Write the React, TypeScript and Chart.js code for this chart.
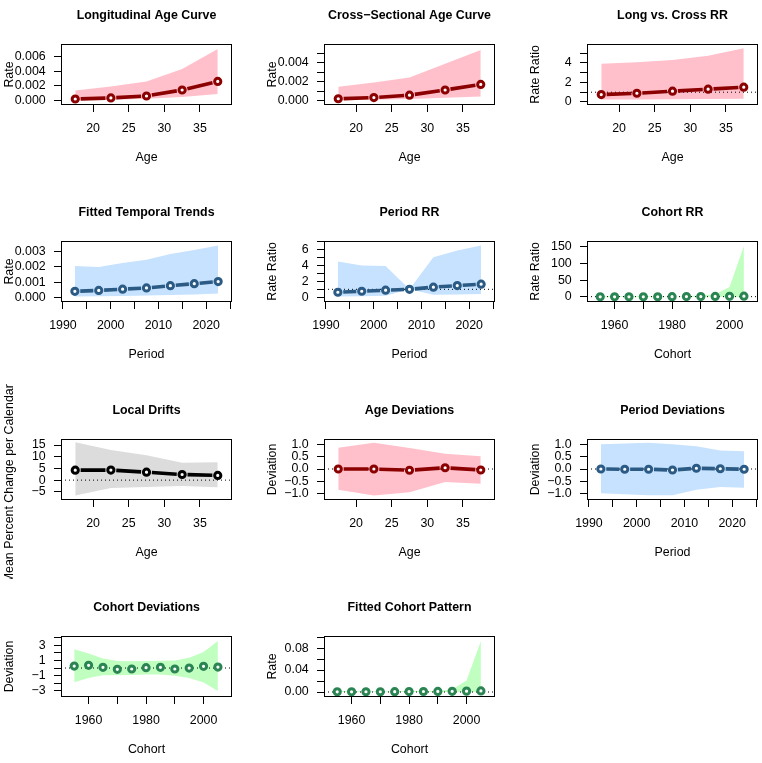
import React, { useEffect, useRef } from 'react';
import { Chart, registerables } from 'chart.js';

Chart.register(...registerables);

const FONT = '"Liberation Sans", Arial, Helvetica, sans-serif';
const FS = 12.4;

// ---------- categories ----------
const ages = [17.5, 22.5, 27.5, 32.5, 37.5];
const periods = [1992.5, 1997.5, 2002.5, 2007.5, 2012.5, 2017.5, 2022.5];
const cohorts = [1955, 1960, 1965, 1970, 1975, 1980, 1985, 1990, 1995, 2000, 2005];

// ---------- axis ticks ----------
const ageTicks = [20, 25, 30, 35];
const ageTickLabels = ['20', '25', '30', '35'];
const periodTicks = [1990, 1995, 2000, 2005, 2010, 2015, 2020, 2025];
const periodTickLabels = ['1990', '', '2000', '', '2010', '', '2020', ''];
const cohortTicks = [1960, 1970, 1980, 1990, 2000];
const cohortTickLabels = ['1960', '', '1980', '', '2000'];

// ---------- series ----------
const longRate = [0.00019, 0.00033, 0.0006, 0.00142, 0.00259];
const longLo = [0.00003, 0.0001, 0.00023, 0.00046, 0.00087];
const longHi = [0.00136, 0.00188, 0.00259, 0.00428, 0.00701];

const crossRate = [0.00018, 0.00031, 0.00056, 0.00111, 0.0017];
const crossLo = [0.00003, 0.00008, 0.00015, 0.0003, 0.00042];
const crossHi = [0.00146, 0.0019, 0.00244, 0.0039, 0.00535];

const lcRR = [0.76, 0.89, 1.1, 1.31, 1.51];
const lcLo = [0.24, 0.26, 0.28, 0.3, 0.34];
const lcHi = [3.9, 4.07, 4.3, 4.72, 5.49];

const trendRate = [0.0004, 0.00046, 0.00054, 0.00062, 0.00077, 0.0009, 0.00104];
const trendLo = [0.00006, 0.00008, 0.0001, 0.00012, 0.00016, 0.0002, 0.00026];
const trendHi = [0.00206, 0.002, 0.00226, 0.00247, 0.00285, 0.00311, 0.0034];

const periodRR = [0.63, 0.76, 0.89, 1.0, 1.27, 1.47, 1.65];
const periodRRLo = [0.09, 0.13, 0.18, 1.0, 0.3, 0.36, 0.42];
const periodRRHi = [4.5, 4.0, 3.96, 1.0, 5.06, 5.9, 6.53];

const cohortRR = [0.35, 0.45, 0.5, 0.55, 0.7, 1.0, 1.1, 1.2, 1.5, 2.0, 2.4];
const cohortRRLo = [0.05, 0.1, 0.12, 0.15, 0.25, 1.0, 0.4, 0.35, 0.3, 0.15, 0.04];
const cohortRRHi = [3.2, 2.5, 2.1, 1.9, 1.8, 1.0, 3.0, 4.2, 8.0, 30, 152];

const drift = [4.28, 4.3, 3.4, 2.4, 2.0];
const driftLo = [-6.6, -3.4, -2.9, -2.5, -3.0];
const driftHi = [16.2, 12.9, 10.6, 7.4, 7.6];

const ageDev = [0.0, 0.0, -0.05, 0.05, -0.04];
const ageDevLo = [-0.84, -1.07, -0.94, -0.52, -0.59];
const ageDevHi = [0.86, 1.06, 0.85, 0.62, 0.51];

const periodDev = [0.0, -0.01, -0.01, -0.04, 0.03, 0.01, -0.01];
const periodDevLo = [-0.98, -1.02, -1.06, -1.06, -0.84, -0.73, -0.76];
const periodDevHi = [1.0, 1.03, 1.06, 1.0, 0.92, 0.75, 0.72];

const cohortDev = [0.26, 0.36, 0.09, -0.17, -0.13, 0.05, 0.09, -0.13, 0.0, 0.22, 0.13];
const cohortDevLo = [-1.85, -1.3, -0.95, -0.95, -0.9, -0.85, -0.85, -1.0, -1.3, -1.9, -3.0];
const cohortDevHi = [2.46, 1.9, 1.24, 0.92, 0.88, 0.92, 0.96, 1.0, 1.36, 2.1, 3.55];

const cohortRate = [0.0003, 0.0004, 0.00045, 0.0005, 0.0006, 0.0008, 0.0009, 0.001, 0.0012, 0.0016, 0.0019];
const cohortRateLo = [0.00003, 0.00005, 0.00008, 0.0001, 0.00012, 0.00015, 0.00018, 0.0002, 0.0002, 0.0001, 0.00004];
const cohortRateHi = [0.002, 0.0018, 0.0016, 0.0015, 0.0015, 0.0017, 0.0018, 0.0022, 0.0045, 0.021, 0.093];

// ---------- colours ----------
const AGE_LINE = '#8B0000';
const AGE_BAND = '#FFC0CB';
const PER_LINE = '#2B5B84';
const PER_BAND = '#C6E2FF';
const COH_LINE = '#2A8553';
const COH_BAND = '#C1FFC1';
const DRIFT_LINE = '#000000';
const DRIFT_BAND = '#DCDCDC';

// ---------- geometry of each R figure cell ----------
const CELL_W = 263;
const CELL_H = 197;
const BOX = { left: 74, top: 57, right: 245, bottom: 118 };
const COL_X = [-13, 250, 513];
const ROW_Y = [-13, 184, 382, 579];

type Panel = {
  title: string;
  xTitle: string;
  yTitle: string;
  longY?: boolean;
  x: number[];
  y: number[];
  lo: number[];
  hi: number[];
  xMin: number;
  xMax: number;
  xTicks: number[];
  xLabels: string[];
  yMin: number;
  yMax: number;
  yTicks: number[];
  yLabels: string[];
  ref: number | null;
  line: string;
  band: string;
  showLine: boolean;
};

const AGE_X = { x: ages, xMin: 15.5, xMax: 39.5, xTicks: ageTicks, xLabels: ageTickLabels, xTitle: 'Age' };
const PER_X = { x: periods, xMin: 1989.6, xMax: 2025.4, xTicks: periodTicks, xLabels: periodTickLabels, xTitle: 'Period' };
const COH_X = { x: cohorts, xMin: 1950.4, xMax: 2009.9, xTicks: cohortTicks, xLabels: cohortTickLabels, xTitle: 'Cohort' };

const panels: (Panel | null)[] = [
  {
    title: 'Longitudinal Age Curve', yTitle: 'Rate', ...AGE_X,
    y: longRate, lo: longLo, hi: longHi,
    yMin: -0.00063, yMax: 0.0077, yTicks: [0, 0.002, 0.004, 0.006],
    yLabels: ['0.000', '0.002', '0.004', '0.006'],
    ref: null, line: AGE_LINE, band: AGE_BAND, showLine: true,
  },
  {
    title: 'Cross\u2212Sectional Age Curve', yTitle: 'Rate', ...AGE_X,
    y: crossRate, lo: crossLo, hi: crossHi,
    yMin: -0.00048, yMax: 0.00598, yTicks: [0, 0.001, 0.002, 0.003, 0.004, 0.005],
    yLabels: ['0.000', '', '0.002', '', '0.004', ''],
    ref: null, line: AGE_LINE, band: AGE_BAND, showLine: true,
  },
  {
    title: 'Long vs. Cross RR', yTitle: 'Rate Ratio', ...AGE_X,
    y: lcRR, lo: lcLo, hi: lcHi,
    yMin: -0.31, yMax: 5.93, yTicks: [0, 1, 2, 3, 4, 5],
    yLabels: ['0', '', '2', '', '4', ''],
    ref: 1, line: AGE_LINE, band: AGE_BAND, showLine: true,
  },
  {
    title: 'Fitted Temporal Trends', yTitle: 'Rate', ...PER_X,
    y: trendRate, lo: trendLo, hi: trendHi,
    yMin: -0.0003, yMax: 0.0037, yTicks: [0, 0.001, 0.002, 0.003],
    yLabels: ['0.000', '0.001', '0.002', '0.003'],
    ref: null, line: PER_LINE, band: PER_BAND, showLine: true,
  },
  {
    title: 'Period RR', yTitle: 'Rate Ratio', ...PER_X,
    y: periodRR, lo: periodRRLo, hi: periodRRHi,
    yMin: -0.6, yMax: 7.1, yTicks: [0, 1, 2, 3, 4, 5, 6, 7],
    yLabels: ['0', '', '2', '', '4', '', '6', ''],
    ref: 1, line: PER_LINE, band: PER_BAND, showLine: true,
  },
  {
    title: 'Cohort RR', yTitle: 'Rate Ratio', ...COH_X,
    y: cohortRR, lo: cohortRRLo, hi: cohortRRHi,
    yMin: -15, yMax: 167, yTicks: [0, 50, 100, 150],
    yLabels: ['0', '50', '100', '150'],
    ref: 1, line: COH_LINE, band: COH_BAND, showLine: false,
  },
  {
    title: 'Local Drifts', yTitle: 'Mean Percent Change per Calendar Year', longY: true, ...AGE_X,
    y: drift, lo: driftLo, hi: driftHi,
    yMin: -8.5, yMax: 17.6, yTicks: [-5, 0, 5, 10, 15],
    yLabels: ['\u22125', '0', '5', '10', '15'],
    ref: 0, line: DRIFT_LINE, band: DRIFT_BAND, showLine: true,
  },
  {
    title: 'Age Deviations', yTitle: 'Deviation', ...AGE_X,
    y: ageDev, lo: ageDevLo, hi: ageDevHi,
    yMin: -1.25, yMax: 1.21, yTicks: [-1, -0.5, 0, 0.5, 1],
    yLabels: ['\u22121.0', '\u22120.5', '0.0', '0.5', '1.0'],
    ref: 0, line: AGE_LINE, band: AGE_BAND, showLine: true,
  },
  {
    title: 'Period Deviations', yTitle: 'Deviation', ...PER_X,
    y: periodDev, lo: periodDevLo, hi: periodDevHi,
    yMin: -1.25, yMax: 1.21, yTicks: [-1, -0.5, 0, 0.5, 1],
    yLabels: ['\u22121.0', '\u22120.5', '0.0', '0.5', '1.0'],
    ref: 0, line: PER_LINE, band: PER_BAND, showLine: true,
  },
  {
    title: 'Cohort Deviations', yTitle: 'Deviation', ...COH_X,
    y: cohortDev, lo: cohortDevLo, hi: cohortDevHi,
    yMin: -3.8, yMax: 4.2, yTicks: [-3, -2, -1, 0, 1, 2, 3, 4],
    yLabels: ['\u22123', '', '\u22121', '', '1', '', '3', ''],
    ref: 0, line: COH_LINE, band: COH_BAND, showLine: false,
  },
  {
    title: 'Fitted Cohort Pattern', yTitle: 'Rate', ...COH_X,
    y: cohortRate, lo: cohortRateLo, hi: cohortRateHi,
    yMin: -0.0091, yMax: 0.102, yTicks: [0, 0.02, 0.04, 0.06, 0.08, 0.1],
    yLabels: ['0.00', '', '0.04', '', '0.08', ''],
    ref: 0, line: COH_LINE, band: COH_BAND, showLine: false,
  },
  null,
];

// Frame box (R's box()) and the long rotated y label that R clips to its figure cell
const boxPlugin = {
  id: 'rBox',
  afterDraw(chart: any, _args: any, opts: any) {
    const { ctx, chartArea: a } = chart;
    ctx.save();
    ctx.strokeStyle = '#000';
    ctx.lineWidth = 1;
    ctx.strokeRect(Math.round(a.left) + 0.5, Math.round(a.top) + 0.5,
      Math.round(a.right - a.left) - 1, Math.round(a.bottom - a.top) - 1);
    if (opts && opts.longY) {
      ctx.font = `${FS}px ${FONT}`;
      ctx.fillStyle = '#000';
      ctx.textAlign = 'center';
      ctx.textBaseline = 'middle';
      ctx.translate(a.left - 51.3, (a.top + a.bottom) / 2);
      ctx.rotate(-Math.PI / 2);
      ctx.fillText(opts.longY, 0, 0);
    }
    ctx.restore();
  },
};

// R type = "b": line segments between the library-placed points, with a gap round each point
const gapLinePlugin = {
  id: 'gapLine',
  beforeDatasetDraw(chart: any, args: any) {
    const ds = chart.data.datasets[args.index];
    if (!ds || !ds.gapLine) return;
    const pts = args.meta.data;
    const { ctx, chartArea: a } = chart;
    const gap = ds.gapLine.gap;
    ctx.save();
    ctx.beginPath();
    ctx.rect(a.left, a.top, a.right - a.left, a.bottom - a.top);
    ctx.clip();
    ctx.strokeStyle = ds.borderColor;
    ctx.lineWidth = ds.gapLine.width;
    ctx.lineCap = 'butt';
    ctx.beginPath();
    for (let j = 0; j < pts.length - 1; j++) {
      const p0 = pts[j];
      const p1 = pts[j + 1];
      const dx = p1.x - p0.x;
      const dy = p1.y - p0.y;
      const d = Math.hypot(dx, dy);
      if (d <= 2 * gap) continue;
      const f = gap / d;
      ctx.moveTo(p0.x + dx * f, p0.y + dy * f);
      ctx.lineTo(p1.x - dx * f, p1.y - dy * f);
    }
    ctx.stroke();
    ctx.restore();
  },
};

function buildConfig(p: Panel): any {
  const pts = (ys: number[]) => p.x.map((x, i) => ({ x, y: ys[i] }));
  const datasets: any[] = [
    { data: pts(p.lo), borderWidth: 0, pointRadius: 0, fill: false, order: 3 },
    { data: pts(p.hi), borderWidth: 0, pointRadius: 0, fill: '-1', backgroundColor: p.band, order: 2 },
  ];
  if (p.ref !== null) {
    datasets.push({
      data: [{ x: p.xMin, y: p.ref }, { x: p.xMax, y: p.ref }],
      borderColor: '#000', borderWidth: 1, borderDash: [1, 3], pointRadius: 0, fill: false, order: 1,
    });
  }
  datasets.push({
    data: pts(p.y),
    borderColor: p.line,
    borderWidth: 3.6,
    showLine: false,
    gapLine: p.showLine ? { gap: 5.4, width: 3.6 } : null,
    pointRadius: 3.1,
    pointBorderWidth: 3,
    pointBackgroundColor: '#ffffff',
    pointBorderColor: p.line,
    fill: false,
    order: 0,
  });

  const tickFont = { family: FONT, size: FS };
  const grid = { drawOnChartArea: false, drawTicks: true, tickLength: 7, color: '#000', lineWidth: 1 };

  return {
    type: 'line',
    data: { datasets },
    plugins: [boxPlugin, gapLinePlugin],
    options: {
      animation: false,
      responsive: false,
      devicePixelRatio: 1,
      events: [],
      layout: { padding: { left: 0, top: 0, right: CELL_W - BOX.right, bottom: 0 } },
      plugins: {
        legend: { display: false },
        tooltip: { enabled: false },
        title: {
          display: true,
          text: p.title,
          fullSize: false,
          color: '#000',
          font: { family: FONT, size: FS, weight: 'bold', lineHeight: 1.2 },
          padding: { top: 20.8, bottom: BOX.top - 20.8 - FS * 1.2 },
        },
        rBox: { longY: p.longY ? p.yTitle : null },
      },
      scales: {
        x: {
          type: 'linear',
          position: 'bottom',
          min: p.xMin,
          max: p.xMax,
          bounds: 'data',
          afterBuildTicks: (s: any) => { s.ticks = p.xTicks.map((v) => ({ value: v })); },
          afterFit: (s: any) => {
            s.height = CELL_H - BOX.bottom;
            s.paddingLeft = 0; s.paddingRight = 0; s.paddingTop = 0; s.paddingBottom = 0;
          },
          grid,
          border: { display: false },
          ticks: {
            autoSkip: false, maxRotation: 0, minRotation: 0, color: '#000', font: tickFont, padding: 8.8,
            callback: (_v: any, i: number) => p.xLabels[i],
          },
          title: {
            display: true, text: p.xTitle, color: '#000',
            font: { family: FONT, size: FS, lineHeight: 1.2 },
            padding: { top: 0, bottom: 18.6 },
          },
        },
        y: {
          type: 'linear',
          position: 'left',
          min: p.yMin,
          max: p.yMax,
          bounds: 'data',
          afterBuildTicks: (s: any) => { s.ticks = p.yTicks.map((v) => ({ value: v })); },
          afterFit: (s: any) => {
            s.width = BOX.left;
            s.paddingLeft = 0; s.paddingRight = 0; s.paddingTop = 0; s.paddingBottom = 0;
          },
          grid,
          border: { display: false },
          ticks: {
            autoSkip: false, color: '#000', font: tickFont, padding: 8.3,
            callback: (_v: any, i: number) => p.yLabels[i],
          },
          title: {
            display: !p.longY, text: p.yTitle, color: '#000',
            font: { family: FONT, size: FS, lineHeight: 1.2 },
            padding: { top: 15.3, bottom: 0 },
          },
        },
      },
    },
  };
}

function PanelChart({ p, left, top }: { p: Panel; left: number; top: number }) {
  const ref = useRef<HTMLCanvasElement | null>(null);
  useEffect(() => {
    if (!ref.current) return;
    const chart = new Chart(ref.current, buildConfig(p));
    return () => chart.destroy();
  }, [p]);
  return (
    <canvas
      ref={ref}
      width={CELL_W}
      height={CELL_H}
      style={{ position: 'absolute', left, top, width: CELL_W, height: CELL_H }}
    />
  );
}

export default function App() {
  return (
    <div
      style={{
        position: 'fixed', left: 0, top: 0, width: 762, height: 763,
        overflow: 'hidden', background: '#ffffff',
      }}
    >
      {panels.map((p, i) =>
        p ? (
          <PanelChart key={i} p={p} left={COL_X[i % 3]} top={ROW_Y[Math.floor(i / 3)]} />
        ) : null
      )}
    </div>
  );
}
